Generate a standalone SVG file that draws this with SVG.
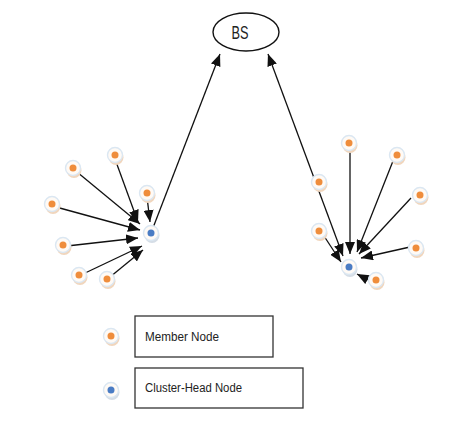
<svg xmlns="http://www.w3.org/2000/svg" width="472" height="429" viewBox="0 0 472 429">
<style>
.lbl{font-family:"Liberation Sans",Arial,sans-serif;fill:#222}
.ln{stroke:#111;stroke-width:1.3;fill:none}
.halo{fill:#fffaf5;stroke:#dbe7f2;stroke-width:1.4}
.shd{fill:#f1d6bd}
.mem{fill:#ef8d3c}
.ch{fill:#4a7cc4}
.box{fill:#fff;stroke:#333;stroke-width:1.3}
</style>
<defs>
<marker id="ah" markerUnits="userSpaceOnUse" markerWidth="13" markerHeight="10" refX="12" refY="5" orient="auto-start-reverse">
<path d="M0,0 L12,5 L0,10 Z" fill="#111"/>
</marker>
<g id="memIcon"><circle class="shd" cx="1" cy="2.5" r="7.5"/><circle class="halo" r="7.5"/><circle class="mem" r="3.5"/></g>
<g id="chIcon"><circle class="shd" cx="1" cy="2.5" r="7.5" style="fill:#d5dde6"/><circle class="halo" r="7.5"/><circle class="ch" r="3.5"/></g>
</defs>
<rect width="472" height="429" fill="#fff"/>
<g id="connectors">
<line class="ln" x1="151" y1="233" x2="220" y2="54" marker-end="url(#ah)"/>
<line class="ln" x1="115" y1="159" x2="138" y2="222" marker-end="url(#ah)"/>
<line class="ln" x1="77" y1="172" x2="140" y2="224" marker-end="url(#ah)"/>
<line class="ln" x1="147" y1="197" x2="150" y2="222" marker-end="url(#ah)"/>
<line class="ln" x1="56" y1="207" x2="140" y2="230" marker-end="url(#ah)"/>
<line class="ln" x1="67" y1="246" x2="138" y2="238" marker-end="url(#ah)"/>
<line class="ln" x1="83" y1="274" x2="142" y2="246" marker-end="url(#ah)"/>
<line class="ln" x1="110" y1="277" x2="143" y2="250" marker-end="url(#ah)"/>
<line class="ln" x1="268" y1="54" x2="343" y2="256" marker-start="url(#ah)" marker-end="url(#ah)"/>
<line class="ln" x1="350" y1="148" x2="350" y2="254" marker-end="url(#ah)"/>
<line class="ln" x1="393" y1="161" x2="357" y2="252" marker-end="url(#ah)"/>
<line class="ln" x1="411" y1="198" x2="359" y2="254" marker-end="url(#ah)"/>
<line class="ln" x1="410" y1="247" x2="361" y2="258" marker-end="url(#ah)"/>
<line class="ln" x1="372" y1="282" x2="357" y2="274" marker-end="url(#ah)"/>
<line class="ln" x1="324" y1="236" x2="341" y2="262" marker-end="url(#ah)"/>
</g>
<g id="BS">
<ellipse cx="246" cy="32" rx="33" ry="19" fill="#fff" stroke="#111" stroke-width="1.4"/>
<text class="lbl" x="240" y="39" font-size="18" text-anchor="middle" textLength="17" lengthAdjust="spacingAndGlyphs">BS</text>
</g>
<g id="m1"><use href="#memIcon" x="115" y="155"/></g>
<g id="m2"><use href="#memIcon" x="73" y="168"/></g>
<g id="m3"><use href="#memIcon" x="52" y="204"/></g>
<g id="m4"><use href="#memIcon" x="63" y="245"/></g>
<g id="m5"><use href="#memIcon" x="79" y="275"/></g>
<g id="m6"><use href="#memIcon" x="107" y="279"/></g>
<g id="m7"><use href="#memIcon" x="147" y="193"/></g>
<g id="ch1"><use href="#chIcon" x="151" y="233"/></g>
<g id="m8"><use href="#memIcon" x="349" y="143"/></g>
<g id="m9"><use href="#memIcon" x="397" y="155"/></g>
<g id="m10"><use href="#memIcon" x="319" y="182"/></g>
<g id="m11"><use href="#memIcon" x="420" y="195"/></g>
<g id="m12"><use href="#memIcon" x="319" y="231"/></g>
<g id="m13"><use href="#memIcon" x="416" y="248"/></g>
<g id="m14"><use href="#memIcon" x="376" y="280"/></g>
<g id="ch2"><use href="#chIcon" x="349" y="267"/></g>
<g id="legend-member">
<use href="#memIcon" x="111" y="336"/>
<rect class="box" x="135" y="316" width="138" height="41"/>
<text class="lbl" x="145" y="341" font-size="12" textLength="74" lengthAdjust="spacingAndGlyphs">Member Node</text>
</g>
<g id="legend-ch">
<use href="#chIcon" x="111" y="390"/>
<rect class="box" x="135" y="368" width="168" height="40"/>
<text class="lbl" x="145" y="392" font-size="12" textLength="97" lengthAdjust="spacingAndGlyphs">Cluster-Head Node</text>
</g>
</svg>
